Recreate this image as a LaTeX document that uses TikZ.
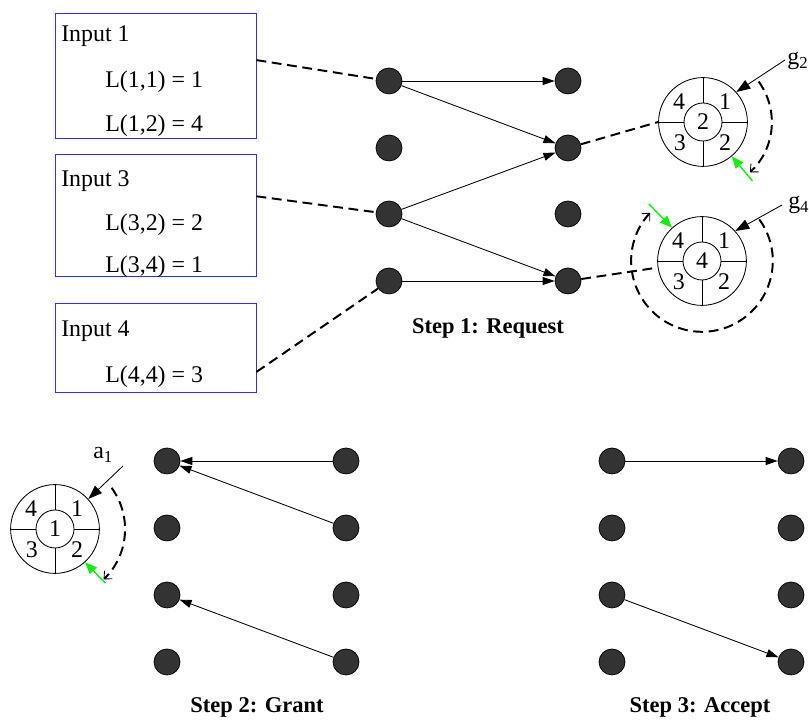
\documentclass[tikz,border=0pt]{standalone}
\usepackage{fontspec}
\setmainfont{Liberation Serif}
\usetikzlibrary{arrows.meta,calc}
\definecolor{portgray}{HTML}{333333}
\definecolor{boxblue}{HTML}{2E2EFF}
\definecolor{ptrgreen}{HTML}{11EE11}

\begin{document}
\begin{tikzpicture}[
  port/.style={circle, draw=black, line width=0.5pt, fill=portgray, minimum size=6.5mm, inner sep=0pt},
  inbox/.style={draw=boxblue, line width=0.7pt, minimum width=5.025cm, inner sep=0pt},
  entry/.style={anchor=base west, font=\fontsize{17}{20}\selectfont, inner sep=0pt},
  ring/.style={circle, draw, line width=0.6pt, minimum size=22.2mm, inner sep=0pt},
  ringcore/.style={circle, draw, line width=0.6pt, minimum size=9.5mm, inner sep=0pt, font=\fontsize{17}{20}\selectfont},
  ringnum/.style={font=\fontsize{17}{20}\selectfont, inner sep=0pt},
  link/.style={line width=0.6pt, -{Triangle[length=3mm,width=2mm]}},
  feed/.style={line width=1.4pt, dash pattern=on 7pt off 4pt},
  rrptr/.style={line width=0.6pt, -{Triangle[length=3.5mm,width=2.5mm]}},
  rrsweep/.style={line width=1.4pt, dash pattern=on 7pt off 4pt, -{Straight Barb[length=1.5mm,width=2.8mm,line width=0.6pt]}},
  rrnext/.style={ptrgreen, line width=1pt, -{Triangle[length=3mm,width=2.4mm]}},
  steplabel/.style={font=\fontsize{16}{19}\selectfont\bfseries, anchor=base, inner sep=0pt}
]
  \useasboundingbox (0,0) rectangle (20.225,18.075);

  % request lists of the inputs
  \node[inbox, minimum height=3.125cm] (in1) at (3.8875,16.1625) {};
  \node[inbox, minimum height=3.05cm] (in3) at (3.8875,12.675) {};
  \node[inbox, minimum height=2.225cm] (in4) at (3.8875,9.3625) {};
  \node[entry] (in1t) at (1.525,17.025) {Input 1};
  \node[entry] (in1a) at (2.625,15.875) {L(1,1) = 1};
  \node[entry] (in1b) at (2.625,14.775) {L(1,2) = 4};
  \node[entry] (in3t) at (1.525,13.4) {Input 3};
  \node[entry] (in3a) at (2.625,12.3) {L(3,2) = 2};
  \node[entry] (in3b) at (2.625,11.25) {L(3,4) = 1};
  \node[entry] (in4t) at (1.525,9.65) {Input 4};
  \node[entry] (in4a) at (2.625,8.5) {L(4,4) = 3};

  % step 1
  \node[port] (rin1) at (9.725,16.05) {};
  \node[port] (rin2) at (9.725,14.375) {};
  \node[port] (rin3) at (9.725,12.725) {};
  \node[port] (rin4) at (9.725,11.05) {};
  \node[port] (rout1) at (14.2,16.05) {};
  \node[port] (rout2) at (14.2,14.375) {};
  \node[port] (rout3) at (14.2,12.725) {};
  \node[port] (rout4) at (14.2,11.05) {};

  % step 2
  \node[port] (gin1) at (4.175,6.55) {};
  \node[port] (gin2) at (4.175,4.875) {};
  \node[port] (gin3) at (4.175,3.2) {};
  \node[port] (gin4) at (4.175,1.525) {};
  \node[port] (gout1) at (8.65,6.55) {};
  \node[port] (gout2) at (8.65,4.875) {};
  \node[port] (gout3) at (8.65,3.2) {};
  \node[port] (gout4) at (8.65,1.525) {};

  % step 3
  \node[port] (ain1) at (15.3,6.55) {};
  \node[port] (ain2) at (15.3,4.875) {};
  \node[port] (ain3) at (15.3,3.2) {};
  \node[port] (ain4) at (15.3,1.525) {};
  \node[port] (aout1) at (19.775,6.55) {};
  \node[port] (aout2) at (19.775,4.875) {};
  \node[port] (aout3) at (19.775,3.2) {};
  \node[port] (aout4) at (19.775,1.525) {};

  % round-robin arbiters
  \foreach \rr/\at/\cur in {g2/{17.575,15.025}/2, g4/{17.55,11.55}/4, a1/{1.375,4.85}/1} {
    \node[ring] (\rr) at (\at) {};
    \node[ringcore] (\rr-c) at (\at) {\cur};
    \draw[line width=0.6pt] (\rr-c.north) -- (\rr.north) (\rr-c.south) -- (\rr.south)
      (\rr-c.east) -- (\rr.east) (\rr-c.west) -- (\rr.west);
    \node[ringnum] (\rr-1) at ($(\at)+(0.55,0.52)$) {1};
    \node[ringnum] (\rr-2) at ($(\at)+(0.55,-0.52)$) {2};
    \node[ringnum] (\rr-3) at ($(\at)+(-0.58,-0.52)$) {3};
    \node[ringnum] (\rr-4) at ($(\at)+(-0.6,0.5)$) {4};
  }

  \node[ringnum, anchor=west] (g2lbl) at (19.68,16.55) {g\textsubscript{2}};
  \node[ringnum, anchor=west] (g4lbl) at (19.7,12.95) {g\textsubscript{4}};
  \node[ringnum, anchor=west] (a1lbl) at (2.325,6.7) {a\textsubscript{1}};
  \coordinate (g2tail) at (19.625,16.575);
  \coordinate (g4tail) at (19.55,12.95);
  \coordinate (a1tail) at (3.075,6.425);
  \coordinate (g2next) at ($(g2)+(-50:1.92)$);
  \coordinate (g4next) at ($(g4)+(133:1.95)$);
  \coordinate (a1next) at ($(a1)+(-47:1.85)$);

  \draw[rrptr] (g2tail) -- (g2.42);
  \draw[rrptr] (g4tail) -- (g4.42);
  \draw[rrptr] (a1tail) -- (a1.42);
  \draw[rrsweep] ($(g2)+(36:1.72)$) arc[start angle=36, end angle=-47, radius=1.72];
  \draw[rrsweep] ($(g4)+(36:1.77)$) arc[start angle=36, end angle=-223, radius=1.77];
  \draw[rrsweep] ($(a1)+(36:1.75)$) arc[start angle=36, end angle=-46, radius=1.75];
  \draw[rrnext] (g2next) -- (g2.-50);
  \draw[rrnext] (g4next) -- (g4.132);
  \draw[rrnext] (a1next) -- (a1.-48);

  % requests
  \draw[feed] ($(in1.north east)!0.37!(in1.south east)$) -- (rin1);
  \draw[feed] ($(in3.north east)!0.34!(in3.south east)$) -- (rin3);
  \draw[feed] ($(in4.north east)!0.76!(in4.south east)$) -- (rin4);
  \draw[link] (rin1) -- (rout1);
  \draw[link] (rin1) -- (rout2);
  \draw[link] (rin3) -- (rout2);
  \draw[link] (rin3) -- (rout4);
  \draw[link] (rin4) -- (rout4);
  \draw[feed] (rout2) -- (g2.west);
  \draw[feed] (rout4) -- (g4);

  % grants
  \draw[link] (gout1) -- (gin1);
  \draw[link] (gout2) -- (gin1);
  \draw[link] (gout4) -- (gin3);

  % accepts
  \draw[link] (ain1) -- (aout1);
  \draw[link] (ain3) -- (aout4);

  \node[steplabel] (req) at (12.2,9.725) {Step 1: Request};
  \node[steplabel] (grant) at (6.425,0.25) {Step 2: Grant};
  \node[steplabel] (accept) at (17.5,0.25) {Step 3: Accept};
\end{tikzpicture}
\end{document}
